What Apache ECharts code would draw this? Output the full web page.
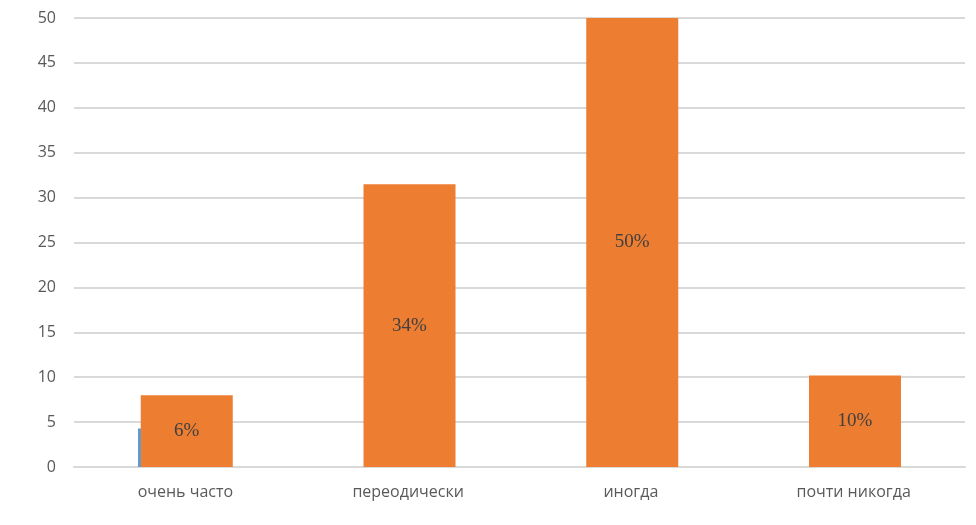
<!DOCTYPE html>
<html>
<head>
<meta charset="utf-8">
<script src="https://cdn.jsdelivr.net/npm/echarts@6/dist/echarts.min.js"></script>
<style>
  html, body { margin: 0; padding: 0; background: #fff; }
  #chart { width: 976px; height: 525px; }
</style>
</head>
<body>
<div id="chart"></div>
<script>
// данные с картинки
var categories = ['очень часто', 'переодически', 'иногда', 'почти никогда'];
var orangeValues = [8, 31.5, 50, 10.2];
var blueValues = [4.3, 0, 0, 0];
var percentLabels = ['6%', '34%', '50%', '10%'];
var yTicks = { min: 0, max: 50, interval: 5 };

var myChart = echarts.init(document.getElementById('chart'));

var option = {
    animation: false,
    grid: { left: 74, right: 11, top: 18, bottom: 58 },
    xAxis: {
        type: 'category',
        data: categories,
        axisLine: { lineStyle: { color: '#d9d9d9', width: 2 } },
        axisTick: { show: false },
        axisLabel: {
            color: '#595959',
            fontSize: 16,
            fontFamily: 'Open Sans',
            margin: 17
        }
    },
    yAxis: {
        type: 'value',
        min: yTicks.min,
        max: yTicks.max,
        interval: yTicks.interval,
        axisLine: { show: false },
        axisTick: { show: false },
        splitLine: { lineStyle: { color: '#d9d9d9', width: 2 } },
        axisLabel: {
            color: '#595959',
            fontSize: 16,
            fontFamily: 'Open Sans',
            margin: 18
        }
    },
    series: [
        {
            name: 'blue',
            type: 'bar',
            data: blueValues,
            barWidth: 92,
            barGap: '-97%',
            itemStyle: { color: '#5b9bd5' },
            z: 1
        },
        {
            name: 'orange',
            type: 'bar',
            data: orangeValues,
            barWidth: 92,
            itemStyle: { color: '#ed7d31' },
            z: 2,
            label: {
                show: true,
                position: 'inside',
                color: '#404040',
                fontSize: 19,
                fontFamily: 'Liberation Serif',
                formatter: function (p) { return percentLabels[p.dataIndex]; }
            }
        }
    ]
};

myChart.setOption(option);
</script>
</body>
</html>
